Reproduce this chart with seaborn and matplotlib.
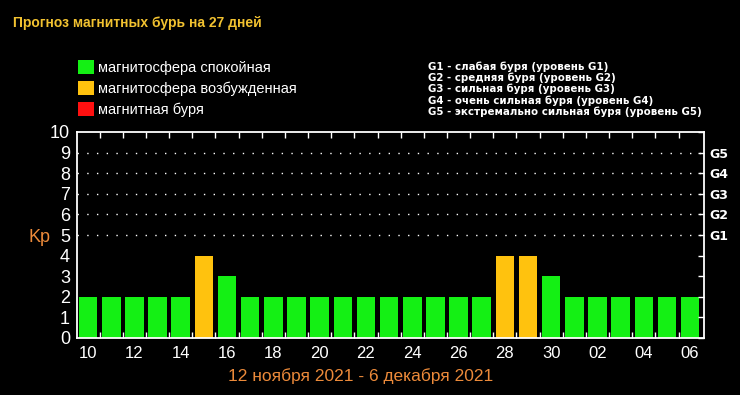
import numpy as np
import pandas as pd
import seaborn as sns
import matplotlib.pyplot as plt
from matplotlib.patches import Patch

# 27-day Kp forecast, 10 Nov - 6 Dec 2021
days = ['10', '11', '12', '13', '14', '15', '16', '17', '18', '19', '20', '21', '22', '23',
        '24', '25', '26', '27', '28', '29', '30', '01', '02', '03', '04', '05', '06']
kp = [2, 2, 2, 2, 2, 4, 3, 2, 2, 2, 2, 2, 2, 2, 2, 2, 2, 2, 4, 4, 3, 2, 2, 2, 2, 2, 2]

level_names = ['магнитосфера спокойная', 'магнитосфера возбужденная', 'магнитная буря']
level_colors = ['#14f014', '#ffc20e', '#ff1010']
g_levels = ['G1', 'G2', 'G3', 'G4', 'G5']
g_text = ['G1 - слабая буря (уровень G1)',
          'G2 - средняя буря (уровень G2)',
          'G3 - сильная буря (уровень G3)',
          'G4 - очень сильная буря (уровень G4)',
          'G5 - экстремально сильная буря (уровень G5)']


def level(v):
    if v >= 5:
        return level_names[2]
    if v >= 4:
        return level_names[1]
    return level_names[0]


df = pd.DataFrame({'day': days, 'kp': kp})
df['level'] = df['kp'].apply(level)

sns.set_style("dark")
plt.rcParams['font.family'] = ['Liberation Sans', 'DejaVu Sans']

fig = plt.figure(figsize=(7.4, 3.95), dpi=100, facecolor='black')
ax = fig.add_axes([77 / 740, 1 - 338 / 395, 627 / 740, 206 / 395])
ax.set_facecolor('black')

sns.barplot(data=df, x='day', y='kp', hue='level', order=days,
            palette=dict(zip(level_names, level_colors)), hue_order=level_names,
            dodge=False, width=0.8, saturation=1, legend=False, ax=ax,
            edgecolor='none')

ax.set_xlim(-0.48, 26.6)
ax.set_ylim(0, 10)
ax.set_xlabel('')
ax.set_ylabel('')

# dotted lines at storm levels
for y in range(5, 10):
    ax.axhline(y, color='white', lw=1.0, ls=(0, (1, 6)), zorder=0.5)

for s in ax.spines.values():
    s.set_color('white')
    s.set_linewidth(1.3)

ax.set_xticks(range(0, 27, 2))
ax.set_xticklabels(days[::2])
ax.set_xticks(np.arange(0.5, 26, 1), minor=True)
ax.tick_params(axis='x', which='major', length=0, pad=6, colors='white', labelsize=12)
ax.tick_params(axis='x', which='minor', direction='in', length=4, width=1,
               color='white', top=True, bottom=True)
ax.set_yticks(range(0, 11))
ax.tick_params(axis='y', length=0, pad=5, colors='white', labelsize=13)

ax2 = ax.twinx()
ax2.set_ylim(0, 10)
ax2.set_yticks(range(0, 11))
ax2.set_yticklabels(['', '', '', '', ''] + g_levels + [''])
ax2.tick_params(axis='y', direction='in', length=4, width=1, color='white',
                labelcolor='white', labelsize=9, pad=4)
for lab in ax2.get_yticklabels():
    lab.set_fontweight('bold')
    lab.set_family(['DejaVu Sans'])
for s in ax2.spines.values():
    s.set_visible(False)
ax2.grid(False)
ax.grid(False)

fig.text(13 / 740, 1 - 23 / 395, 'Прогноз магнитных бурь на 27 дней', color='#f2c230',
         fontsize=10, fontweight='bold', va='center', ha='left')

fig.text(28 / 740, 1 - 237 / 395, 'Kp', color='#ec8a3a', fontsize=13, va='center', ha='left')

fig.text(361 / 740, 1 - 376 / 395, '12 ноября 2021 - 6 декабря 2021', color='#ec8a3a',
         fontsize=12.5, va='center', ha='center')

handles = [Patch(facecolor=c, edgecolor='none', label=n) for c, n in zip(level_colors, level_names)]
fig.legend(handles=handles, loc='upper left', bbox_to_anchor=(78 / 740, 1 - 60 / 395),
           frameon=False, labelcolor='white', fontsize=10.5, handlelength=1.1,
           handleheight=1.1, handletextpad=0.3, labelspacing=0.4, borderpad=0,
           borderaxespad=0)

fig.text(428 / 740, 1 - 61 / 395, '\n'.join(g_text), color='white', fontsize=7.4,
         fontweight='bold', va='top', ha='left', linespacing=1.1,
         family=['DejaVu Sans'])

fig.savefig('out.png', dpi=100, facecolor='black')
